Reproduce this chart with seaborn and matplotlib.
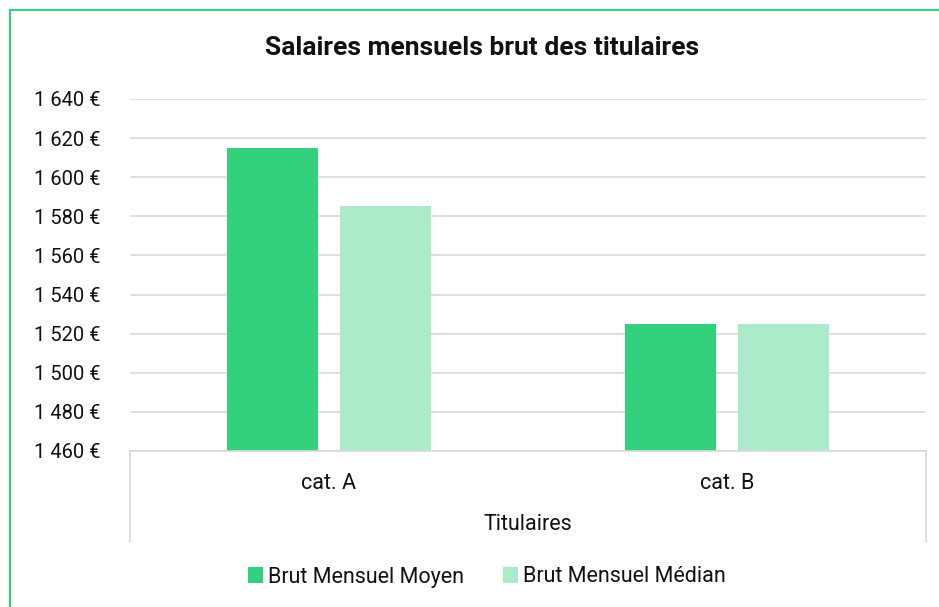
import matplotlib
matplotlib.use("Agg")
import matplotlib.pyplot as plt
import matplotlib.ticker as mticker
from matplotlib.patches import Rectangle, Patch
from matplotlib.lines import Line2D
import seaborn as sns
import pandas as pd

categories = ["cat. A", "cat. B"]
series_names = ["Brut Mensuel Moyen", "Brut Mensuel Médian"]
moyen = [1615, 1525]
median = [1585.5, 1525]
title = "Salaires mensuels brut des titulaires"
group_label = "Titulaires"

colors = ["#33D17E", "#ABEBCA"]

df = pd.DataFrame({
    "cat": categories * 2,
    "serie": [series_names[0]] * 2 + [series_names[1]] * 2,
    "val": moyen + median,
})

sns.set_theme(style="white")
plt.rcParams["font.family"] = ["Roboto", "DejaVu Sans"]

W, H = 939, 607
fig = plt.figure(figsize=(W / 100, H / 100), dpi=100)
ax = fig.add_axes([130 / W, 1 - 451 / H, (926 - 130) / W, (451 - 99) / H])

sns.barplot(data=df, x="cat", y="val", hue="serie", palette=colors,
            width=0.568, gap=0.194, ax=ax, legend=False,
            saturation=1, edgecolor="none")

ax.set_ylim(1460, 1640)
ax.set_xlim(-0.5, 1.5)
ax.yaxis.set_major_locator(mticker.MultipleLocator(20))
ax.yaxis.set_major_formatter(mticker.FuncFormatter(
    lambda v, p: f"{v:,.0f}".replace(",", " ") + " €"))
ax.grid(axis="y", color="#D9D9D9", linewidth=1.2)
ax.set_axisbelow(True)
for s in ["top", "left", "right"]:
    ax.spines[s].set_visible(False)
ax.spines["bottom"].set_color("#D9D9D9")
ax.spines["bottom"].set_linewidth(1.2)
ax.tick_params(axis="y", length=0, pad=21, labelsize=14.5, labelcolor="#111111")
ax.tick_params(axis="x", length=0, pad=16, labelsize=15.5, labelcolor="#111111")
ax.set_xlabel("")
ax.set_ylabel("")

# multi-level category box
for xf in (130, 926):
    fig.add_artist(Line2D([xf / W, xf / W], [1 - 451 / H, 1 - 542 / H],
                          color="#D9D9D9", linewidth=1.2))
fig.text(528 / W, 1 - 525 / H, group_label, ha="center", va="center",
         fontsize=15.5, color="#111111")

fig.text(482 / W, 1 - 48 / H, title, ha="center", va="center",
         fontsize=19, fontweight="bold", color="#111111")

handles = [Patch(facecolor=c, edgecolor="none") for c in colors]
fig.legend(handles, series_names, loc="center", bbox_to_anchor=(487 / W, 1 - 577 / H),
           ncol=2, frameon=False, fontsize=15.5, handlelength=0.7, handleheight=0.7,
           handletextpad=0.25, columnspacing=1.8, labelcolor="#111111")

# green frame (partly cropped)
fig.add_artist(Rectangle((10 / W, -0.1), 1.2, (1 - 10 / H) + 0.1,
                         transform=fig.transFigure, fill=False,
                         edgecolor="#33D17E", linewidth=1.5, clip_on=False))

fig.savefig("out.png", dpi=100, facecolor="white")
